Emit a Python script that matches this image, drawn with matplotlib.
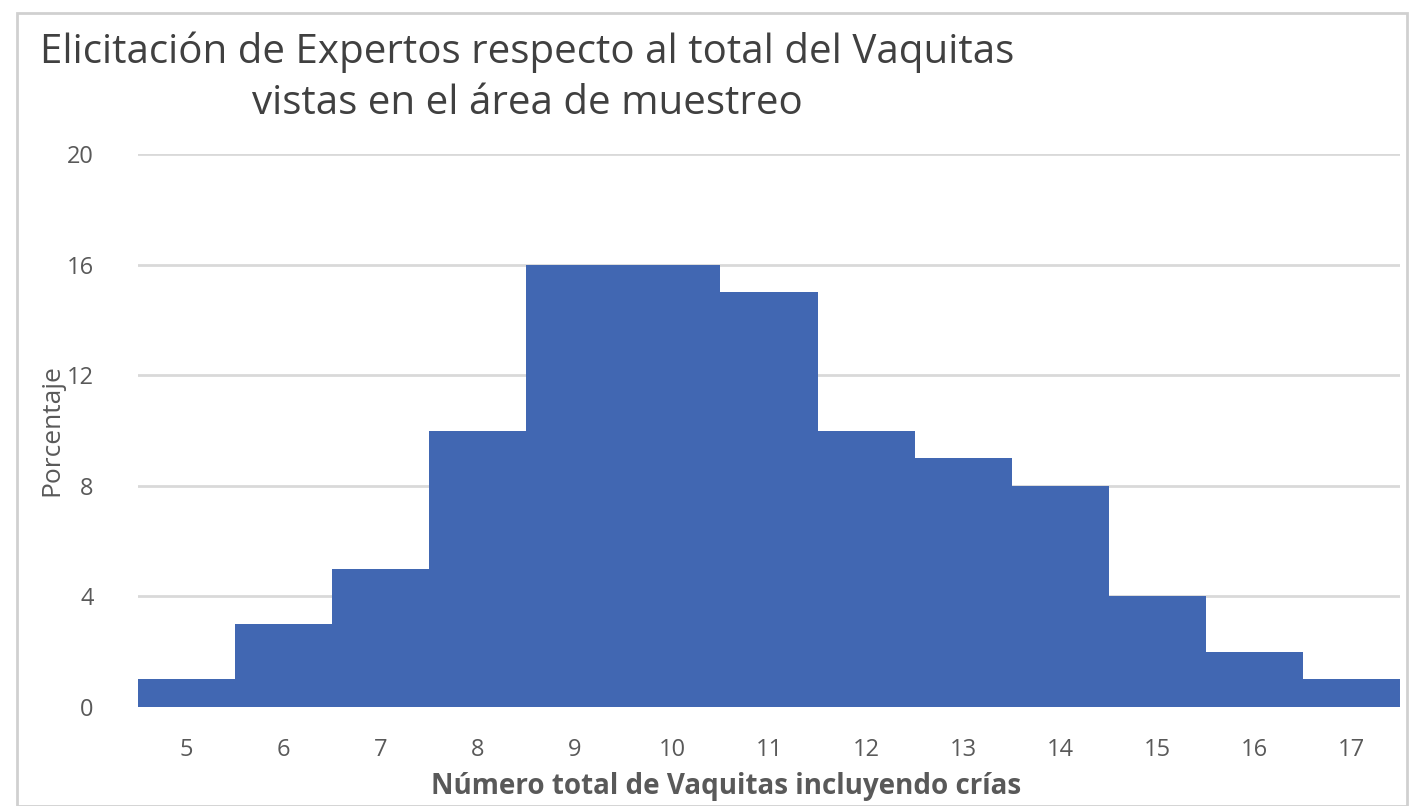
import matplotlib.pyplot as plt
from matplotlib.patches import Rectangle

# porcentaje de expertos por número total de vaquitas
conteos = [5, 6, 7, 8, 9, 10, 11, 12, 13, 14, 15, 16, 17]
porcentaje = [1, 3, 5, 10, 16, 16, 15, 10, 9, 8, 4, 2, 1]
yticks = [0, 4, 8, 12, 16, 20]

azul = '#4167b2'
gris_texto = '#595959'

fig = plt.figure(figsize=(14.16, 8.06), dpi=100)
fig.patches.append(Rectangle((17 / 1416, 0), 1390 / 1416, 1 - 13 / 806,
                             transform=fig.transFigure, fill=False,
                             edgecolor='#d0d0d0', linewidth=2))

ax = fig.add_axes([138 / 1416, 1 - 707 / 806, 1262 / 1416, 553 / 806])
ax.bar(conteos, porcentaje, width=1.0, color=azul, zorder=2)

ax.set_xlim(4.5, 17.5)
ax.set_ylim(0, 20)
ax.set_xticks(conteos)
ax.set_yticks(yticks)
ax.grid(axis='y', color='#d9d9d9', linewidth=2, zorder=0)
for s in ax.spines.values():
    s.set_visible(False)
ax.tick_params(length=0, labelsize=17, labelcolor=gris_texto)
ax.tick_params(axis='y', pad=32)
ax.tick_params(axis='x', pad=22)
for lab in ax.get_xticklabels() + ax.get_yticklabels():
    lab.set_family('Open Sans')

ax.set_ylabel('Porcentaje', fontsize=19, color=gris_texto,
              family='Open Sans')
ax.yaxis.set_label_coords(-0.058, 0.5)
ax.set_xlabel('Número total de Vaquitas incluyendo crías', fontsize=20,
              fontweight='bold', color=gris_texto, family='Open Sans')
ax.xaxis.set_label_coords(0.466, -0.118)

fig.text(527 / 1416, 1 - 78 / 806,
         'Elicitación de Expertos respecto al total del Vaquitas\n'
         'vistas en el área de muestreo',
         ha='center', va='center', fontsize=29, color='#404040',
         family='Open Sans', linespacing=1.35)

fig.savefig('out.png', dpi=100)
